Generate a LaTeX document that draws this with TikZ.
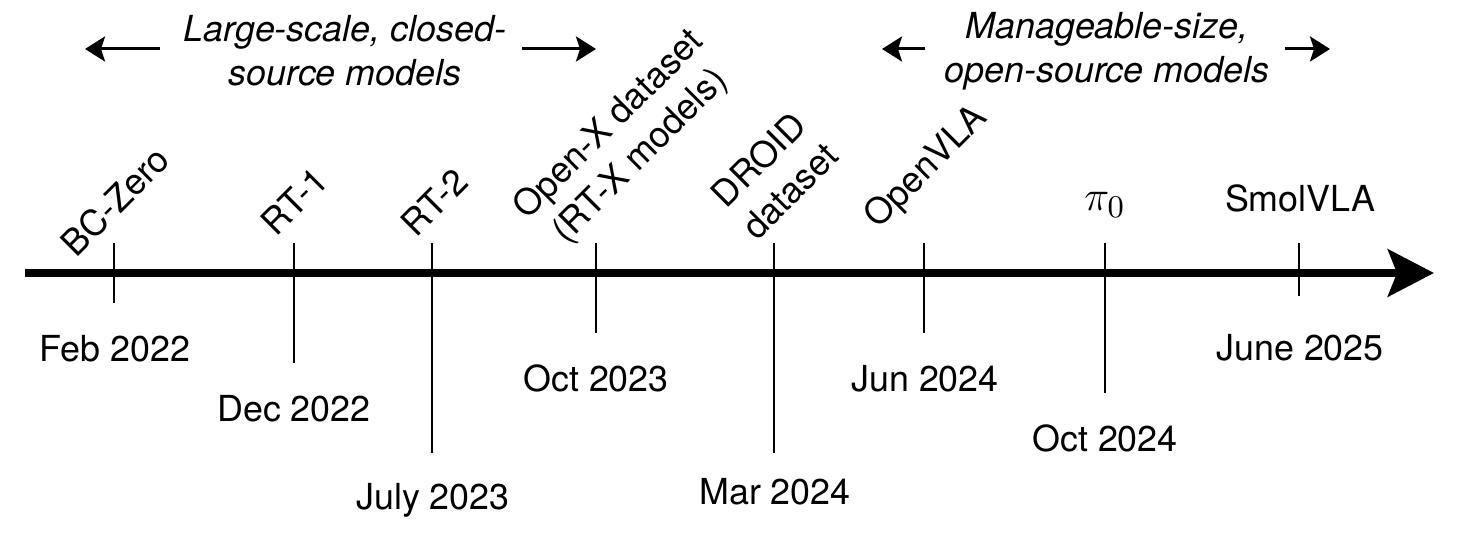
\documentclass[tikz,border=0pt]{standalone}
\usepackage{fontspec}
\setmainfont{TeX Gyre Heros}
\usetikzlibrary{arrows.meta}

\begin{document}
\begin{tikzpicture}[every node/.style={font=\fontsize{10.2}{12.6}\selectfont, inner sep=0pt},
		axisline/.style={line width=2.4pt, -{Stealth[length=0.46cm, width=0.47cm, inset=0.09cm]}},
		tickline/.style={line width=0.6pt},
		era/.style={font=\fontsize{10.2}{12.6}\selectfont\itshape, align=center},
		eraarrow/.style={line width=0.85pt, -{Stealth[length=0.2cm, width=0.25cm, inset=0.04cm]}},
		model/.style={rotate=45, align=center},
		date/.style={anchor=base} ]
		\useasboundingbox (0,0) rectangle (14.64,5.46);
		% time axis
		\coordinate (axisstart) at (0.25,2.73);
		\coordinate (axisend) at (14.34,2.73);
		\draw[axisline] (axisstart) -- (axisend);
		% ticks: name / position / lower end
		\foreach \t/\x/\b in {bczero/1.14/2.43, rtone/2.94/1.83, rttwo/4.32/0.93, openx/5.96/2.13,
			droid/7.74/0.93, openvla/9.24/2.13, pizero/11.05/1.53, smolvla/12.99/2.50}
		{
			\coordinate (\t-top) at (\x,3.03);
			\coordinate (\t-bot) at (\x,\b);
			\draw[tickline] (\t-top) -- (\t-bot);
		}
		% models above the axis
		\node[model] (bczero) at (1.15,3.45) {BC-Zero};
		\node[model] (rtone) at (2.94,3.45) {RT-1};
		\node[model] (rttwo) at (4.34,3.44) {RT-2};
		\node[model] (openx) at (6.25,4.05) {Open-X dataset\\(RT-X models)};
		\node[model] (droid) at (7.74,3.71) {DROID\\dataset};
		\node[model] (openvla) at (9.27,3.78) {OpenVLA};
		\node[anchor=base, font=\fontsize{13}{15}\selectfont] (pizero) at (11.05,3.35) {$\pi_0$};
		\node[anchor=base] (smolvla) at (13.00,3.34) {SmolVLA};
		% dates below the axis
		\node[date] (feb22) at (1.15,1.84) {Feb 2022};
		\node[date] (dec22) at (2.94,1.24) {Dec 2022};
		\node[date] (jul23) at (4.33,0.36) {July 2023};
		\node[date] (oct23) at (5.96,1.54) {Oct 2023};
		\node[date] (mar24) at (7.75,0.41) {Mar 2024};
		\node[date] (jun24) at (9.25,1.54) {Jun 2024};
		\node[date] (oct24) at (11.05,0.94) {Oct 2024};
		\node[date] (jun25) at (13.00,1.85) {June 2025};
		% eras on top
		\node[era] (closed) at (3.45,4.95) {Large-scale, closed-\\source models};
		\node[era] (open) at (11.07,4.95) {Manageable-size,\\open-source models};
		\coordinate (closed-l) at (1.60,4.97);
		\coordinate (closed-lt) at (0.85,4.97);
		\coordinate (closed-r) at (5.22,4.97);
		\coordinate (closed-rt) at (5.96,4.97);
		\coordinate (open-l) at (9.25,4.97);
		\coordinate (open-lt) at (8.82,4.97);
		\coordinate (open-r) at (12.85,4.97);
		\coordinate (open-rt) at (13.30,4.97);
		\draw[eraarrow] (closed-l) -- (closed-lt);
		\draw[eraarrow] (closed-r) -- (closed-rt);
		\draw[eraarrow] (open-l) -- (open-lt);
		\draw[eraarrow] (open-r) -- (open-rt);
	\end{tikzpicture}
\end{document}
